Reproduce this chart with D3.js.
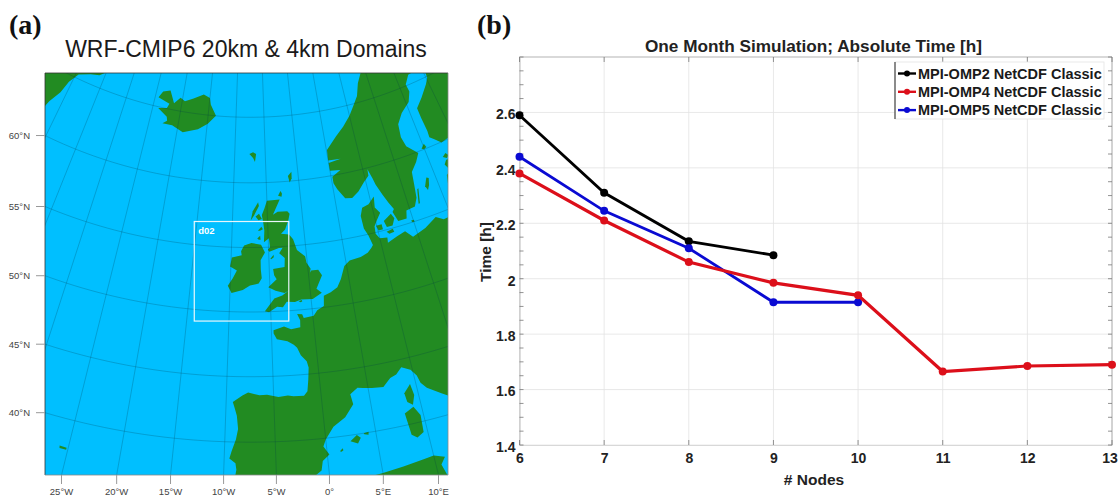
<!DOCTYPE html>
<html>
<head>
<meta charset="utf-8">
<script src="https://cdn.jsdelivr.net/npm/d3@7"></script>
<style>
  html, body { margin: 0; padding: 0; background: #fff; }
  svg { display: block; }
  text { font-family: "Liberation Sans", Arial, sans-serif; }
</style>
</head>
<body>
<svg id="fig" width="1118" height="500"></svg>
<script>
// Panel (b) data
const nodes = [6, 7, 8, 9, 10, 11, 12, 13];
const omp2 = [2.59, 2.31, 2.135, 2.085];
const omp4 = [2.38, 2.21, 2.06, 1.985, 1.94, 1.665, 1.685, 1.69];
const omp5 = [2.44, 2.245, 2.11, 1.915, 1.915];
const yTicks = [1.4, 1.6, 1.8, 2, 2.2, 2.4, 2.6];
const seriesNames = ["MPI-OMP2 NetCDF Classic", "MPI-OMP4 NetCDF Classic", "MPI-OMP5 NetCDF Classic"];
const seriesColors = ["#000000", "#dc0f1a", "#0a0ad2"];

// Panel (a) ticks
const lonTicks = [-25, -20, -15, -10, -5, 0, 5, 10];
const latTicks = [40, 45, 50, 55, 60];
// d02 box corners, lon/lat
const d02Corners = [[-14.1, 49.1], [-2.0, 56.9]];

// Coastlines, lon/lat
const mainland = [[-8.99,37],[-8.8,37.9],[-8.9,38.4],[-9.5,38.75],[-9.3,39.3],[-8.9,40.2],[-8.7,41],[-8.85,42],[-9.1,42.6],[-9.3,43.05],[-8.3,43.55],[-7.7,43.78],[-6.5,43.57],[-5.7,43.6],[-4.5,43.4],[-3.5,43.47],[-2.9,43.4],[-1.8,43.38],[-1.4,43.7],[-1.2,44.6],[-1.05,45.5],[-1.2,46],[-1.8,46.5],[-2.15,47.1],[-2.5,47.35],[-3.2,47.65],[-4.4,47.85],[-4.75,48.3],[-4.75,48.55],[-3.5,48.8],[-2.7,48.55],[-1.6,48.65],[-1.55,49.2],[-1.85,49.7],[-1.25,49.65],[-1.1,49.35],[0.1,49.45],[0.6,49.85],[1.45,50.1],[1.6,50.9],[2.5,51.1],[3.4,51.4],[4,52],[4.7,52.95],[5.5,53.3],[7,53.4],[8,53.6],[8.6,53.9],[8.9,54.1],[8.6,54.9],[8.2,55.5],[8.15,56.5],[8.6,57.1],[9.6,57.25],[10.6,57.73],[10.35,56.9],[10.9,56.4],[10.2,55.9],[9.7,55.5],[9.6,54.9],[10,54.5],[11,54.4],[10.9,54],[12.3,54.3],[13.5,54.5],[14.3,53.9],[16.2,54.25],[18,54.8],[18.9,54.4],[19.8,54.45],[21,55.2],[21.1,56.5],[21.6,57.5],[22.6,57.75],[23.2,57.1],[24.3,57.1],[24.4,58.3],[23.5,58.8],[23.5,59.2],[25,59.6],[28,59.7],[30,50],[16,41],[15.5,40],[14,40.8],[12.3,41.7],[11,42.4],[10.5,42.9],[10.3,43.5],[9.8,44.05],[8.9,44.4],[8.2,43.95],[7.5,43.78],[6.6,43.2],[5.4,43.3],[4.5,43.4],[3.9,43.5],[3.05,43.1],[3.2,42.3],[2.2,41.4],[0.9,40.8],[0,39.9],[-0.3,39.4],[0.2,38.75],[-0.5,38.3],[-0.7,37.6],[-1.9,36.95],[-2.2,36.7],[-3.5,36.7],[-4.5,36.7],[-5.35,36.15],[-6,36.2],[-6.4,36.7],[-6.9,37.2],[-7.9,37]];
const scandinavia = [[15,68],[14.4,67.3],[13,66.4],[12.2,65.5],[11,64.8],[10,64.2],[8.5,63.5],[7,62.9],[5.1,62],[5,61.2],[7,61.15],[5,61],[5,60.4],[6.6,60.3],[5.2,59.9],[5.2,59.4],[5.6,58.9],[6.5,58.1],[7.5,58],[8.6,58.4],[9.7,59],[10.6,59.4],[10.7,59.9],[11.1,59.1],[11.3,58.6],[11.9,57.7],[12.4,57],[12.9,56.4],[12.6,56.2],[13,55.4],[14.2,55.4],[14.5,56],[15.8,56.1],[16.4,56.7],[16.7,57.7],[17,58.7],[18.1,59.3],[18.9,59.9],[17.5,60.7],[17.2,61.5],[17.5,62.5],[18.7,63.2],[20.5,63.8],[21.3,64.5],[21.2,65.1],[22.3,65.7],[24,65.8],[25.3,65.3],[25.2,64.9],[24.5,64.5],[22.8,63.7],[21.4,63.1],[21.4,62.3],[21.5,61.2],[21.4,60.7],[22,60.4],[22.8,59.95],[24.8,60.15],[27,60.5],[30,60],[40,60],[40,72],[15,72]];
const britain = [[-5.7,50.05],[-5.2,49.96],[-4.2,50.35],[-3.5,50.3],[-3,50.7],[-2,50.65],[-1.2,50.8],[0.2,50.75],[1.4,51.15],[0.8,51.5],[1.7,52.5],[1.3,52.95],[0.4,52.95],[0.2,52.8],[0.35,53.1],[-0.1,53.6],[-0.2,54.1],[-1.2,54.65],[-1.6,55.5],[-2.1,55.9],[-3.2,56],[-2.6,56.3],[-2.05,57],[-1.8,57.5],[-2.1,57.7],[-3.5,57.7],[-4.2,57.5],[-3.1,58.65],[-5,58.6],[-5.4,58],[-5.8,57.5],[-5.6,56.8],[-5.5,56.3],[-5.6,55.4],[-4.9,55.7],[-4.8,55],[-5.1,54.8],[-4.9,54.65],[-3.6,54.9],[-3.1,54.9],[-3.6,54.5],[-2.9,54.1],[-3,53.4],[-4.5,53.3],[-4.4,52.8],[-4.1,52.5],[-5.2,51.9],[-4.3,51.6],[-3.2,51.4],[-2.7,51.55],[-3.5,51.2],[-4.5,51]];
const ireland = [[-6,55.2],[-5.5,54.6],[-6.1,54],[-6.1,53.3],[-6,52.6],[-6.4,52.2],[-7.5,52.05],[-8.4,51.7],[-9.8,51.45],[-10.3,52],[-9.7,52.6],[-9.2,53.2],[-10.1,53.5],[-9.9,54.2],[-8.6,54.4],[-8.7,54.7],[-8.3,55.15],[-7.3,55.35]];
const iceland = [[-22.7,63.85],[-21,63.85],[-19,63.45],[-16.5,63.85],[-14.9,64.35],[-13.6,65],[-14.7,65.8],[-15,66.3],[-16.2,66.5],[-18,66.1],[-19.5,65.8],[-20.4,66],[-21.4,65.5],[-22.5,66.4],[-23.8,66.2],[-24.4,65.7],[-22.2,65.4],[-22.5,65.05],[-24,64.9],[-22.2,64.4],[-22,64.1]];
const greenland = [[-44,59.8],[-43,60],[-42.5,61.5],[-42,62.5],[-41,63.5],[-40.5,64.5],[-39.5,65.3],[-37.5,65.7],[-36,65.9],[-33,67],[-30,68],[-20,72],[-60,72],[-60,60]];
const africa = [[-2,35],[0,35.8],[2.5,36.6],[5,36.8],[7,37],[9,37.2],[10,37.3],[11,37],[10.5,36.5],[11,35],[11,30],[-2,30]];
const corsica = [[9.4,43],[9.55,42.1],[9.2,41.4],[8.7,41.7],[8.6,42.4]];
const sardinia = [[9.2,41.25],[9.7,40.5],[9.6,39.2],[8.9,38.9],[8.4,39.2],[8.2,40.9]];
const mallorca = [[2.4,39.55],[3.1,39.95],[3.45,39.7],[3.1,39.3]];
const menorca = [[3.8,40],[4.3,40.05],[4.25,39.82],[3.85,39.92]];
const ibiza = [[1.25,38.9],[1.55,39.1],[1.6,38.95],[1.4,38.85]];
const zealand = [[11.1,55.7],[12.3,56.1],[12.6,55.7],[12.1,55.2],[11.3,55.2]];
const funen = [[9.9,55.5],[10.7,55.5],[10.7,55.1],[10.1,55.1]];
const lolland = [[11.1,54.85],[12,54.95],[12.1,54.7],[11.4,54.65]];
const bornholm = [[14.7,55.15],[15.1,55.15],[15.1,55],[14.8,55]];
const gotland = [[18.1,57.3],[18.7,57.9],[19,57.8],[18.7,57.3],[18.3,56.95]];
const oland = [[16.4,56.2],[16.9,57.3],[17.1,57.35],[16.6,56.2]];
const saaremaa = [[21.9,58.3],[22.4,58.6],[23.3,58.5],[22.2,57.95]];
const hiiumaa = [[22.1,58.9],[22.7,59.1],[23,58.85],[22.6,58.7]];
const aland = [[19.6,60.1],[20.2,60.4],[20.4,60.1],[19.9,60]];
const lewis = [[-7.1,57.8],[-6.3,58.5],[-6.2,58.2],[-6.9,57.5],[-7.4,57.1]];
const skye = [[-6.7,57.4],[-6.2,57.6],[-5.8,57.2],[-6.3,57.1]];
const mull = [[-6.4,56.3],[-5.9,56.6],[-5.7,56.4],[-6.1,56.3]];
const islay = [[-6.5,55.7],[-6.1,55.9],[-6.05,55.6],[-6.3,55.6]];
const man = [[-4.8,54.1],[-4.35,54.4],[-4.35,54.2],[-4.7,54.05]];
const wight = [[-1.55,50.67],[-1.15,50.75],[-1.1,50.65],[-1.3,50.58]];
const orkney = [[-3.3,58.95],[-2.9,59.3],[-2.7,59.1],[-2.8,58.85]];
const shetland = [[-1.4,59.9],[-1.6,60.4],[-1.0,60.7],[-1.05,60.2]];
const faroe = [[-7.6,62.2],[-7,62.35],[-6.5,62.2],[-6.7,61.6],[-7,61.9]];
const azoresWest = [[-28.5,38.55],[-28.1,38.55],[-28.1,38.4],[-28.5,38.4]];
const azoresEast = [[-25.85,37.9],[-25.15,37.87],[-25.15,37.72],[-25.8,37.72]];

const landPolygons = [mainland, scandinavia, britain, ireland, iceland, greenland, africa, corsica, sardinia, mallorca, menorca, ibiza, zealand, funen, lolland, bornholm, gotland, oland, saaremaa, hiiumaa, aland, lewis, skye, mull, islay, man, wight, orkney, shetland, faroe, azoresWest, azoresEast];

const svg = d3.select("#fig");

// ---- Panel (a): map ----
const mapBox = { left: 45, right: 448, top: 73, bottom: 475 };

const projection = d3.geoConicConformal()
    .parallels([45, 60])
    .rotate([7.5, 0])
    .center([0, 50])
    .scale(745)
    .translate([250, 312]);

svg.append("text").attr("x", 9).attr("y", 34)
    .style("font-family", "'Liberation Serif', serif")
    .attr("font-weight", "bold").attr("font-size", 28).attr("fill", "#111").text("(a)");

svg.append("text").attr("x", 246).attr("y", 57).attr("text-anchor", "middle")
    .attr("font-size", 23).attr("fill", "#1a1a1a").text("WRF-CMIP6 20km & 4km Domains");

svg.append("clipPath").attr("id", "mapClip").append("rect")
    .attr("x", mapBox.left).attr("y", mapBox.top)
    .attr("width", mapBox.right - mapBox.left).attr("height", mapBox.bottom - mapBox.top);

const map = svg.append("g").attr("clip-path", "url(#mapClip)");

map.append("rect")
    .attr("x", mapBox.left).attr("y", mapBox.top)
    .attr("width", mapBox.right - mapBox.left).attr("height", mapBox.bottom - mapBox.top)
    .attr("fill", "#00bfff");

const landLine = d3.line().curve(d3.curveLinearClosed);
map.selectAll("path.land")
    .data(landPolygons)
    .enter().append("path")
    .attr("class", "land")
    .attr("d", d => landLine(d.map(p => projection(p))))
    .attr("fill", "#228b22");

const graticule = d3.geoGraticule().extent([[-60, 30], [45, 75]]).step([5, 5]).precision(1);
map.append("path")
    .datum(graticule())
    .attr("d", d3.geoPath(projection))
    .attr("fill", "none")
    .attr("stroke", "#00384a")
    .attr("stroke-opacity", 0.4)
    .attr("stroke-width", 0.6);

// d02 nest
const d02a = projection(d02Corners[0]);
const d02b = projection(d02Corners[1]);
map.append("rect")
    .attr("x", d02a[0]).attr("y", d02b[1])
    .attr("width", d02b[0] - d02a[0]).attr("height", d02a[1] - d02b[1])
    .attr("fill", "none").attr("stroke", "#e8f6fb").attr("stroke-width", 1.2);
map.append("text")
    .attr("x", d02a[0] + 4).attr("y", d02b[1] + 12)
    .attr("font-size", 9.5).attr("font-weight", "bold").attr("fill", "#fff").text("d02");

svg.append("path")
    .attr("d", `M${mapBox.left},${mapBox.bottom}V${mapBox.top}H${mapBox.right}`)
    .attr("fill", "none").attr("stroke", "#333").attr("stroke-width", 0.8);
svg.append("path")
    .attr("d", `M${mapBox.left},${mapBox.bottom}H${mapBox.right}V${mapBox.top}`)
    .attr("fill", "none").attr("stroke", "#888").attr("stroke-width", 0.8);

// where a meridian or parallel hits the frame
function solve(f, lo, hi) {
    for (let i = 0; i < 40; i++) {
        const mid = (lo + hi) / 2;
        if (f(lo) * f(mid) <= 0) hi = mid; else lo = mid;
    }
    return (lo + hi) / 2;
}
const lonLabel = d => d === 0 ? "0°" : d < 0 ? `${-d}°W` : `${d}°E`;
lonTicks.forEach(lon => {
    const lat = solve(v => projection([lon, v])[1] - mapBox.bottom, 25, 50);
    const x = projection([lon, lat])[0];
    svg.append("line").attr("x1", x).attr("x2", x).attr("y1", mapBox.bottom).attr("y2", mapBox.bottom + 9)
        .attr("stroke", "#999").attr("stroke-width", 1);
    svg.append("text").attr("x", x).attr("y", mapBox.bottom + 20).attr("text-anchor", "middle")
        .attr("font-size", 9.5).attr("fill", "#444").text(lonLabel(lon));
});
latTicks.forEach(lat => {
    const lon = solve(v => projection([v, lat])[0] - mapBox.left, -60, -7.5);
    const y = projection([lon, lat])[1];
    svg.append("line").attr("x1", mapBox.left - 9).attr("x2", mapBox.left).attr("y1", y).attr("y2", y)
        .attr("stroke", "#999").attr("stroke-width", 1);
    svg.append("text").attr("x", mapBox.left - 15).attr("y", y + 3.5).attr("text-anchor", "end")
        .attr("font-size", 9.5).attr("fill", "#444").text(`${lat}°N`);
});

// ---- Panel (b): line chart ----
const plot = { left: 519.5, right: 1112, top: 57, bottom: 445 };

const x = d3.scaleLinear().domain([6, 13]).range([plot.left, plot.right]);
const y = d3.scaleLinear().domain([1.4, 2.8]).range([plot.bottom, plot.top]);

svg.append("text").attr("x", 477).attr("y", 34)
    .style("font-family", "'Liberation Serif', serif")
    .attr("font-weight", "bold").attr("font-size", 28).attr("fill", "#111").text("(b)");

svg.append("text").attr("x", 813.5).attr("y", 52).attr("text-anchor", "middle")
    .attr("font-size", 17.2).attr("font-weight", "bold").attr("fill", "#222")
    .text("One Month Simulation; Absolute Time [h]");

const grid = svg.append("g").attr("stroke", "#e2e2e2").attr("stroke-width", 0.8);
grid.selectAll("line.gx").data(nodes).enter().append("line").attr("class", "gx")
    .attr("x1", d => x(d)).attr("x2", d => x(d)).attr("y1", plot.top).attr("y2", plot.bottom);
grid.selectAll("line.gy").data(yTicks).enter().append("line").attr("class", "gy")
    .attr("x1", plot.left).attr("x2", plot.right).attr("y1", d => y(d)).attr("y2", d => y(d));

const minorTicks = d3.range(1.4, 2.801, 0.05);

const yAxis = svg.append("g").attr("transform", `translate(${plot.left},0)`)
    .call(d3.axisLeft(y).tickValues(yTicks).tickFormat(d3.format("~g")).tickSize(0).tickPadding(4));
yAxis.select(".domain").attr("stroke", "#bbb");
yAxis.selectAll("text").attr("font-size", 14).attr("font-weight", "bold").attr("fill", "#222")
    .attr("dy", "0.45em")
    .style("font-family", "'Liberation Sans', Arial, sans-serif");

const xAxis = svg.append("g").attr("transform", `translate(0,${plot.bottom})`)
    .call(d3.axisBottom(x).tickValues(nodes).tickFormat(d3.format("d")).tickSize(0).tickPadding(8));
xAxis.select(".domain").attr("stroke", "#d8d8d8");
xAxis.selectAll("text").attr("font-size", 14).attr("font-weight", "bold").attr("fill", "#222")
    .attr("dx", d => d === 13 ? -2.5 : 0)
    .style("font-family", "'Liberation Sans', Arial, sans-serif");

// frame and inward ticks on all sides
svg.append("path")
    .attr("d", `M${plot.left},${plot.top}H${plot.right}V${plot.bottom}`)
    .attr("fill", "none").attr("stroke", "#aaa").attr("stroke-width", 0.9);
const ticks = svg.append("g").attr("stroke", "#777").attr("stroke-width", 0.8);
ticks.selectAll("line.tl").data(minorTicks).enter().append("line").attr("class", "tl")
    .attr("x1", plot.left).attr("x2", plot.left + 4).attr("y1", d => y(d)).attr("y2", d => y(d));
ticks.selectAll("line.tr").data(minorTicks).enter().append("line").attr("class", "tr")
    .attr("x1", plot.right - 4).attr("x2", plot.right).attr("y1", d => y(d)).attr("y2", d => y(d));
ticks.selectAll("line.tt").data(nodes).enter().append("line").attr("class", "tt")
    .attr("x1", d => x(d)).attr("x2", d => x(d)).attr("y1", plot.top).attr("y2", plot.top + 5);
ticks.selectAll("line.tb").data(nodes).enter().append("line").attr("class", "tb")
    .attr("x1", d => x(d)).attr("x2", d => x(d)).attr("y1", plot.bottom - 5).attr("y2", plot.bottom);

svg.append("text").attr("x", 814).attr("y", 485).attr("text-anchor", "middle")
    .attr("font-size", 15.5).attr("font-weight", "bold").attr("fill", "#222").text("# Nodes");
svg.append("text").attr("transform", "translate(491,252) rotate(-90)").attr("text-anchor", "middle")
    .attr("font-size", 15.5).attr("font-weight", "bold").attr("fill", "#222").text("Time [h]");

// series: black and blue go under red, as in the figure
const allSeries = [
    { values: omp2, color: seriesColors[0], width: 2.8 },
    { values: omp5, color: seriesColors[2], width: 2.8 },
    { values: omp4, color: seriesColors[1], width: 3.2 }
];
const line = d3.line().x((d, i) => x(nodes[i])).y(d => y(d));
allSeries.forEach(s => {
    svg.append("path").datum(s.values).attr("d", line)
        .attr("fill", "none").attr("stroke", s.color).attr("stroke-width", s.width);
    svg.append("g").selectAll("circle").data(s.values).enter().append("circle")
        .attr("cx", (d, i) => x(nodes[i])).attr("cy", d => y(d)).attr("r", 4).attr("fill", s.color);
});

// legend
const legend = svg.append("g").attr("transform", "translate(895,62)");
legend.append("rect").attr("width", 209).attr("height", 57).attr("fill", "#fff")
    .attr("stroke", "#e4e4e4").attr("stroke-width", 0.8);
legend.append("line").attr("y1", 0).attr("y2", 57).attr("stroke", "#222").attr("stroke-width", 1);
seriesNames.forEach((name, i) => {
    const row = legend.append("g").attr("transform", `translate(0,${11.5 + i * 18.3})`);
    row.append("line").attr("x1", 3).attr("x2", 21).attr("stroke", seriesColors[i]).attr("stroke-width", 2.4);
    row.append("circle").attr("cx", 12).attr("r", 3).attr("fill", seriesColors[i]);
    row.append("text").attr("x", 23).attr("y", 5).attr("font-size", 14.5).attr("font-weight", "bold")
        .attr("fill", "#1a1a1a").text(name);
});
</script>
</body>
</html>
